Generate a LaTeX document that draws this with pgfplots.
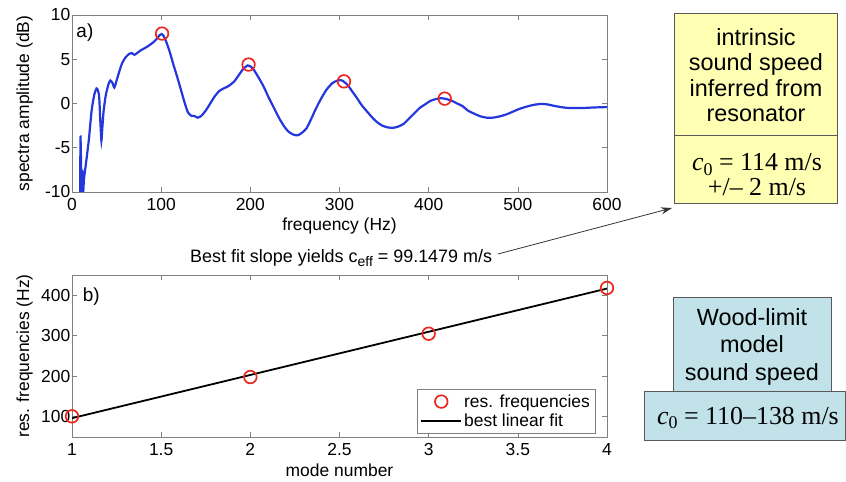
\documentclass[border=0pt]{standalone}
\usepackage{pgfplots}
\pgfplotsset{compat=1.18}
\usepackage{fontspec}
\setmainfont{Liberation Sans}
\newfontfamily\tms{Liberation Serif}
\usetikzlibrary{arrows.meta}
\definecolor{mblue}{RGB}{35,55,220}
\definecolor{mred}{RGB}{235,40,30}
\definecolor{boxy}{RGB}{255,255,180}
\definecolor{boxb}{RGB}{192,226,232}
\definecolor{boxline}{RGB}{90,90,90}
\definecolor{axgray}{RGB}{128,128,128}
\pgfplotsset{
  mystyle/.style={
    scale only axis,
    width=535bp,
    axis line style={axgray},
    tick style={axgray, line width=0.6bp},
    major tick length=5bp,
    tick align=inside,
    /pgf/number format/assume math mode=true,
    tick label style={font=\fontsize{17.5}{18}\selectfont, black},
    yticklabel style={inner xsep=1.5bp},
    xticklabel style={yshift=-2.5bp},
  },
  legline/.style={legend image code/.code={\draw[##1] (0bp,0bp) -- (40bp,0bp);}},
  legmark/.style={legend image code/.code={\draw[##1] plot coordinates {(20bp,0bp)};}},
}
\begin{document}
\begin{tikzpicture}[x=1bp,y=1bp]
\path[use as bounding box] (0bp,0bp) rectangle (846bp,482bp);

% ---------- top axis ----------
\begin{axis}[mystyle,
  at={(72bp,290bp)}, anchor=south west,
  height=177bp,
  xmin=0, xmax=600, ymin=-10, ymax=10,
  xtick={0,100,...,600}, ytick={-10,-5,0,5,10},
  xlabel={frequency (Hz)}, ylabel={spectra amplitude (dB)},
  every axis x label/.style={at={(axis description cs:0.5,-0.19)},anchor=center,font=\fontsize{17.5}{20}\selectfont},
  every axis y label/.style={at={(axis description cs:-0.0887,0.5)},rotate=90,anchor=center,font=\fontsize{17.5}{20}\selectfont},
]
\addplot[mblue, line width=2.2bp, smooth, tension=0.4] coordinates {
(9.2,-10.5)(9.5,-3.8)(10.2,-7)(10.8,-10.5)(11.5,-7.5)(12.2,-10.5)(13.5,-8.5)(16,-6.5)(19,-4)(22,-0.8)(25,1.0)(27.5,1.7)(29,1.5)(30.5,0.7)(32,-2.5)(33,-4.2)(34,-2.8)(35.5,-0.8)(38,1.0)(41,2.2)(43,2.6)(45.5,2.3)(47.5,1.8)(50,2.6)(53,3.6)(56,4.5)(60,5.2)(64,5.6)(67,5.7)(70,5.5)(73,5.7)(77,6.0)(84,6.4)(91,6.9)(95,7.3)(98,7.7)(100.5,7.85)(103,7.6)(106,6.9)(110,5.7)(114,4.3)(118,3.0)(122,1.6)(126,0.2)(130,-1.0)(134,-1.4)(137,-1.4)(141,-1.6)(145,-1.4)(150,-0.8)(155,0)(160,0.8)(165,1.4)(170,1.7)(176,2.0)(182,2.5)(187,3.2)(192,3.9)(197,4.3)(200,4.2)(204,3.8)(210,2.8)(215,1.9)(220,0.8)(226,-0.4)(232,-1.6)(238,-2.6)(243,-3.2)(248,-3.5)(253,-3.6)(258,-3.3)(263,-2.8)(268,-1.8)(273,-0.7)(278,0.3)(285,1.5)(292,2.3)(298,2.6)(303,2.6)(309,2.1)(314,1.4)(319,0.7)(325,-0.2)(330,-0.8)(336,-1.5)(342,-2.1)(348,-2.5)(354,-2.7)(360,-2.75)(366,-2.6)(372,-2.3)(378,-1.7)(384,-1.1)(390,-0.5)(396,-0.1)(402,0.3)(408,0.5)(414,0.6)(420,0.5)(426,0.3)(432,0)(438,-0.3)(444,-0.8)(450,-1.1)(458,-1.45)(465,-1.6)(472,-1.6)(480,-1.45)(488,-1.2)(495,-0.9)(502,-0.6)(510,-0.35)(518,-0.15)(526,-0.05)(533,-0.1)(540,-0.25)(548,-0.4)(556,-0.5)(565,-0.52)(575,-0.5)(585,-0.45)(595,-0.42)(600,-0.4)
};
\addplot[only marks, mark=o, mark size=6.3bp, mred, line width=1.7bp] coordinates {
(101,7.9)(198,4.4)(305,2.5)(418,0.55)
};
\node[anchor=west, inner sep=0, font=\fontsize{19}{20}\selectfont] at (rel axis cs:0.008,0.9) {a)};
\end{axis}

% ---------- bottom axis ----------
\begin{axis}[mystyle,
  at={(72bp,45bp)}, anchor=south west,
  height=162bp,
  xmin=1, xmax=4, ymin=50, ymax=450,
  xtick={1,1.5,...,4}, ytick={100,200,300,400},
  xlabel={mode number}, ylabel={res. frequencies (Hz)},
  every axis x label/.style={at={(axis description cs:0.5,-0.204)},anchor=center,font=\fontsize{17.5}{20}\selectfont},
  every axis y label/.style={at={(axis description cs:-0.0887,0.5)},rotate=90,anchor=center,font=\fontsize{17.5}{20}\selectfont},
  legend style={at={(rel axis cs:0.9776,0.025)}, anchor=south east, draw=axgray,
    font=\fontsize{17.5}{20}\selectfont, inner sep=3bp, row sep=1bp},
  legend cell align=left,
]
\addplot[only marks, mark=o, mark size=6.3bp, mred, line width=1.7bp, legmark] coordinates {
(1,101)(2,198)(3,305)(4,418)
};
\addlegendentry{res. frequencies}
\addplot[black, line width=1.8bp, legline] coordinates {
(1,96.5)(4,416.5)
};
\addlegendentry{best linear fit}
\node[anchor=west, inner sep=0, font=\fontsize{19}{20}\selectfont] at (rel axis cs:0.02,0.867) {b)};
\end{axis}

% ---------- annotation ----------
\node[anchor=west, inner sep=0, font=\fontsize{18}{20}\selectfont] at (190bp,224bp)
  {Best fit slope yields c\raisebox{-0.45ex}{\fontsize{14}{14}\selectfont eff} = 99.1479 m/s};
\draw[-{Stealth[length=11bp,width=7bp]}, line width=0.8bp, black!80] (498bp,228bp) -- (672bp,274bp);

% ---------- yellow box ----------
\draw[boxline, line width=1bp, fill=boxy] (674bp,468bp) rectangle (837bp,278bp);
\draw[boxline, line width=1bp] (674bp,346bp) -- (837bp,346bp);
\node[align=center, inner sep=0, font=\fontsize{23.5}{25.5}\selectfont] at (756bp,407bp)
  {intrinsic\\sound speed\\inferred from\\resonator};
\node[align=center, inner sep=0, font=\tms\fontsize{26}{25}\selectfont] at (757bp,307.5bp)
  {{\itshape c}\raisebox{-0.4ex}{\fontsize{18}{18}\selectfont 0} = 114 m/s\\+/– 2 m/s};

% ---------- blue boxes ----------
\draw[boxline, line width=1bp, fill=boxb] (673bp,184bp) rectangle (831bp,90bp);
\draw[boxline, line width=1bp, fill=boxb] (644bp,90bp) rectangle (845.5bp,41bp);
\node[align=center, inner sep=0, font=\fontsize{23.5}{27.5}\selectfont] at (752bp,135.3bp)
  {Wood-limit\\model\\sound speed};
\node[inner sep=0, font=\tms\fontsize{26}{25}\selectfont] at (748bp,64bp)
  {{\itshape c}\raisebox{-0.4ex}{\fontsize{18}{18}\selectfont 0} = 110–138 m/s};
\end{tikzpicture}
\end{document}
